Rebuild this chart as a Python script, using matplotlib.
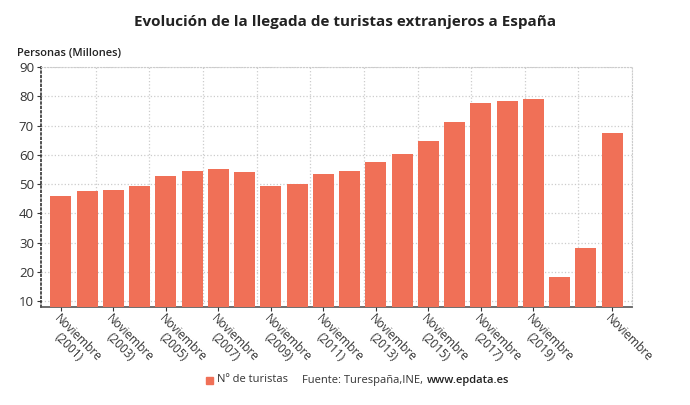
import matplotlib
matplotlib.use('Agg')
import matplotlib.pyplot as plt
import numpy as np

years = list(range(2001, 2023))
turistas = [45.8, 47.5, 47.9, 49.2, 52.6, 54.6, 55.2, 54.2, 49.3, 50.0, 53.4,
            54.6, 57.4, 60.4, 64.7, 71.3, 77.8, 78.4, 79.1, 18.2, 28.2, 67.4]
tick_idx = [0, 2, 4, 6, 8, 10, 12, 14, 16, 18, 21]
tick_labels = ['Noviembre\n(2001)', 'Noviembre\n(2003)', 'Noviembre\n(2005)', 'Noviembre\n(2007)',
               'Noviembre\n(2009)', 'Noviembre\n(2011)', 'Noviembre\n(2013)', 'Noviembre\n(2015)',
               'Noviembre\n(2017)', 'Noviembre\n(2019)', 'Noviembre']

color = '#F07057'
txt = '#333333'
plt.rcParams['font.family'] = ['Open Sans', 'DejaVu Sans']

fig = plt.figure(figsize=(6.9, 4.05), dpi=100)
ax = fig.add_axes([41/690, 1 - 307/405, (632-41)/690, (307-67)/405])

x = np.arange(len(years))
ax.bar(x, turistas, width=0.8, color=color, zorder=3)
ax.set_xlim(-0.76, 21.76)
ax.set_ylim(8, 90)
ax.set_yticks(range(10, 91, 10))
ax.tick_params(axis='y', labelsize=9.5, colors=txt, length=3, pad=2)

ax.set_xticks(tick_idx)
ax.set_xticklabels(tick_labels, rotation=-45, ha='left', va='top', ma='center',
                   rotation_mode='anchor', fontsize=8.5, color=txt, linespacing=1.05)
ax.tick_params(axis='x', length=3, colors=txt, pad=0.5)

# grid
ax.grid(axis='y', color='#cccccc', linestyle=':', linewidth=0.9, zorder=0)
for gx in np.linspace(1.33, 21.76, 11):
    ax.axvline(gx, color='#cccccc', linestyle=':', linewidth=0.9, zorder=0)
ax.spines['top'].set_color('#cccccc')
ax.spines['top'].set_linestyle(':')
ax.spines['right'].set_color('#cccccc')
ax.spines['right'].set_linestyle(':')
ax.spines['left'].set_color('#333333')
ax.spines['left'].set_linestyle(':')
ax.spines['left'].set_linewidth(1.2)
ax.spines['bottom'].set_color('#555555')
ax.spines['bottom'].set_linewidth(1.2)

fig.text(0.5, 1 - 22/405, 'Evolución de la llegada de turistas extranjeros a España',
         ha='center', va='center', fontsize=11, fontweight='bold', color='#222222')
fig.text(17/690, 1 - 53/405, 'Personas (Millones)', ha='left', va='center',
         fontsize=8, fontweight='semibold', color='#222222')

# legend / source
fig.patches.append(plt.Rectangle((206/690, 1 - 384/405), 7/690, 7/405,
                                 transform=fig.transFigure, color=color))
fig.text(217/690, 1 - 380/405, 'Nº de turistas', ha='left', va='center', fontsize=8, color=txt)
src = fig.text(302/690, 1 - 380/405, 'Fuente: Turespaña,INE,', ha='left', va='center',
               fontsize=8, color=txt)
fig.canvas.draw()
bb = src.get_window_extent()
fig.text((bb.x1 + 4) / 690, 1 - 380/405, 'www.epdata.es', ha='left', va='center', fontsize=8,
         fontweight='semibold', color='#222222')

fig.savefig('out.png', dpi=100)
